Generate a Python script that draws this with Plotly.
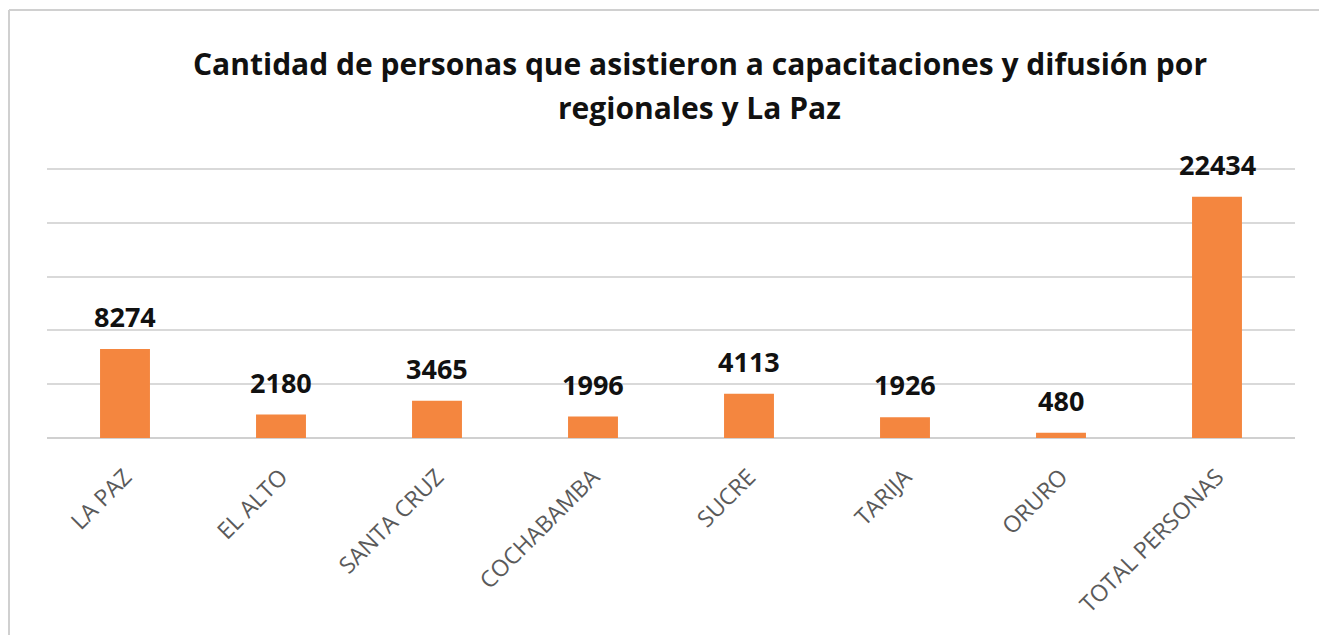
import plotly.graph_objects as go

categories = ["LA PAZ", "EL ALTO", "SANTA CRUZ", "COCHABAMBA", "SUCRE", "TARIJA", "ORURO", "TOTAL PERSONAS"]
values = [8274, 2180, 3465, 1996, 4113, 1926, 480, 22434]
title_lines = ["Cantidad de personas que asistieron a capacitaciones y difusión por", "regionales y La Paz"]

# page body has an 8px margin on each side; figure sized to fill the rest of the window
W, H = 1311, 627
L, R, T, B = 39, 24, 160, 197
plot_h = H - T - B

fig = go.Figure()
fig.add_trace(go.Bar(x=categories, y=values, marker=dict(color="#F4863F", line=dict(width=0)),
                     hoverinfo="x+y"))

for c, v in zip(categories, values):
    fig.add_annotation(x=c, y=v, text=f"<b>{v}</b>", showarrow=False, yanchor="bottom",
                       yshift=12, font=dict(family="Open Sans", size=27, color="#111111"))

for line, ypix in zip(title_lines, [55, 100]):
    fig.add_annotation(xref="paper", yref="paper", x=0.5232, y=(H - B - ypix) / plot_h,
                       xanchor="center", yanchor="middle", showarrow=False,
                       text=f"<b>{line}</b>", font=dict(family="Open Sans", size=30, color="#111111"))

border_top = (H - B - 2) / plot_h
border_left = (1 - L) / (W - L - R)
fig.update_layout(
    width=W, height=H,
    margin=dict(l=L, r=R, t=T, b=B),
    paper_bgcolor="white", plot_bgcolor="white",
    bargap=0.68,
    showlegend=False,
    shapes=[
        dict(type="line", xref="paper", yref="paper", x0=border_left, x1=1.2, y0=border_top, y1=border_top,
             line=dict(color="#D0D0D0", width=2), layer="below"),
        dict(type="line", xref="paper", yref="paper", x0=border_left, x1=border_left, y0=-1.0, y1=border_top,
             line=dict(color="#D0D0D0", width=2), layer="below"),
    ],
)
fig.update_xaxes(tickangle=-45, tickfont=dict(family="Open Sans", size=23, color="#5A5A5A"),
                 showline=False, ticks="", showgrid=False, ticklabelstandoff=20)
fig.update_yaxes(range=[0, 25100], dtick=5000, showticklabels=False, showgrid=True,
                 gridcolor="#D9D9D9", gridwidth=2, zeroline=True, zerolinecolor="#D0D0D0",
                 zerolinewidth=2, showline=False)

fig.write_html("out.html")
